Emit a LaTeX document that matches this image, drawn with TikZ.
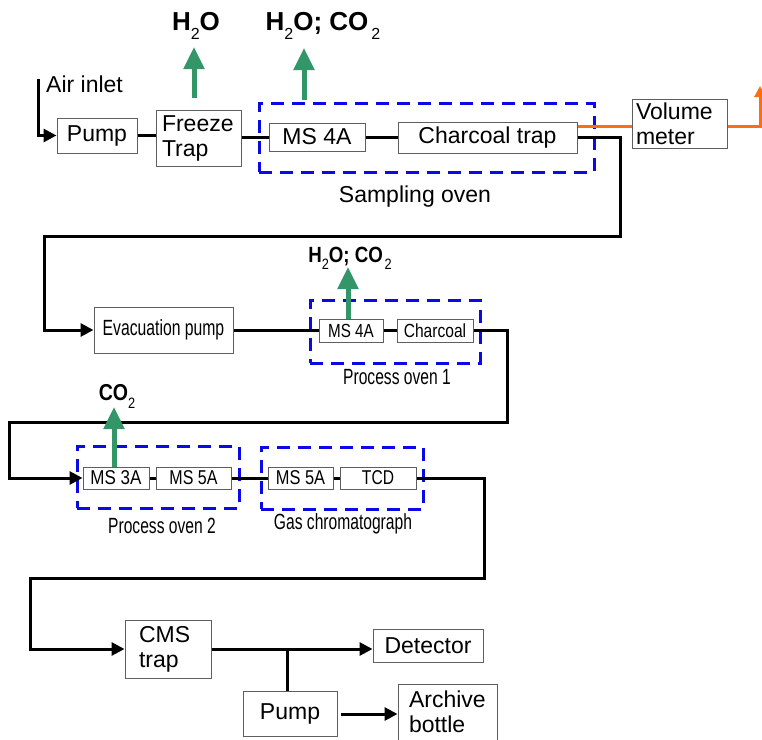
\documentclass[tikz,border=0pt]{standalone}
\usepackage{fontspec}
\usepackage{graphicx}
\setmainfont{Liberation Sans}
\usetikzlibrary{arrows.meta}

\definecolor{ovenblue}{RGB}{10,10,230}
\definecolor{ventgreen}{RGB}{50,150,105}
\definecolor{lineorange}{RGB}{250,110,20}
\definecolor{boxgrey}{RGB}{95,95,95}

% narrow (horizontally compressed) text
\newcommand\narrow[2]{\scalebox{#1}[1]{#2}}
% lowered subscript two
\newcommand\lowtwo[2]{\raisebox{-#1}{\fontsize{#2}{#2}\selectfont\mdseries 2}}

\tikzset{
  unit/.style={draw=boxgrey, line width=1pt, fill=white, inner sep=0pt,
    font=\fontsize{23}{25}\selectfont},
  unitl/.style={unit, align=left},
  oven/.style={draw=ovenblue, line width=3pt, dash pattern=on 13pt off 8pt,
    inner sep=0pt},
  pipe/.style={line width=3pt},
  flow/.style={pipe, -{Triangle[length=13pt,width=13pt]}},
  vent/.style={draw=ventgreen, line width=5pt,
    -{Triangle[length=22pt,width=20pt]}},
  exhaust/.style={draw=lineorange, line width=3pt,
    -{Triangle[length=11pt,width=11pt]}},
  gas/.style={font=\fontsize{26}{26}\selectfont\bfseries, inner sep=0pt},
  caption/.style={font=\fontsize{23}{25}\selectfont, inner sep=0pt},
  ncaption/.style={font=\fontsize{22}{25}\selectfont, inner sep=0pt},
}

\begin{document}
\begin{tikzpicture}[x=1pt,y=-1pt]
\useasboundingbox (0,0) rectangle (762,739);

% ---- sampling line ----
\node[oven, minimum width=335pt, minimum height=69pt] (soven) at (426.5,137.5) {};
\node[caption] (soventxt) at (415,197) {Sampling oven};

\node[unit, minimum width=80pt, minimum height=35pt] (pumpa) at (97,135.5) {Pump};
\node[unitl, text width=73pt, inner xsep=6pt, minimum height=56pt] (freeze) at (198.5,138) {Freeze\\Trap};
\node[unit, minimum width=96pt, minimum height=28pt] (msa) at (317,137) {MS 4A};
\node[unit, minimum width=179pt, minimum height=31pt] (ctrap) at (487.5,137.5) {Charcoal trap};
\node[unitl, text width=87pt, inner xsep=4pt, minimum height=49pt] (vmeter) at (679.5,123.5) {Volume\\meter};

\node[caption, anchor=west] (airtxt) at (46,84) {Air inlet};
\coordinate (airin) at (38,79);
\draw[flow] (airin) |- (pumpa.west);

\draw[pipe] (pumpa.east) -- (pumpa.east -| freeze.west);
\draw[pipe] (freeze.east |- msa.west) -- (msa.west);
\draw[pipe] (msa.east) -- (msa.east -| ctrap.west);

% vented water and carbon dioxide
\node[gas] (wa) at (196,26) {H\lowtwo{9pt}{16}O};
\node[gas] (wb) at (323,26) {H\lowtwo{9pt}{16}O; CO\hspace{3pt}\lowtwo{9pt}{16}};
\coordinate (ga0) at (194,98);  \coordinate (ga1) at (194,47);
\coordinate (gb0) at (304,100); \coordinate (gb1) at (304,48);
\draw[vent] (ga0) -- (ga1);
\draw[vent] (gb0) -- (gb1);

% volume measurement branch
\coordinate (vout) at (760,86);
\draw[exhaust, -] ([yshift=-2.5pt]vmeter.west -| ctrap.east) -- ([yshift=-2.5pt]vmeter.west);
\draw[exhaust] ([yshift=-2.5pt]vmeter.east) -| (vout);

% ---- transfer to process oven 1 ----
\coordinate (ta) at (620,236);
\coordinate (tb) at (44,236);
\node[unit, minimum width=139pt, minimum height=46pt, font=\fontsize{22}{25}\selectfont] (evac) at (163.5,330)
  {\narrow{0.715}{Evacuation pump}};
\draw[flow] (ctrap.east) -| (ta) -- (tb) |- (evac.west);

\node[oven, minimum width=170pt, minimum height=63pt] (poa) at (395,331.5) {};
\node[ncaption] (poatxt) at (397,377) {\narrow{0.71}{Process oven 1}};
\node[unit, minimum width=64pt, minimum height=23pt, font=\fontsize{19}{22}\selectfont] (msb) at (351,330.5) {\narrow{0.8}{MS 4A}};
\node[unit, minimum width=76pt, minimum height=23pt, font=\fontsize{19}{22}\selectfont] (char) at (435,330.5) {\narrow{0.82}{Charcoal}};
\draw[pipe] (evac.east) -- (evac.east -| msb.west);
\draw[pipe] (msb.east) -- (char.west);

\node[gas, font=\fontsize{22}{22}\selectfont\bfseries] (wc) at (350,258)
  {\narrow{0.85}{H\lowtwo{7pt}{15}O; CO\hspace{2pt}\lowtwo{7pt}{15}}};
\coordinate (gc0) at (348,319); \coordinate (gc1) at (348,267);
\draw[vent] (gc0) -- (gc1);

% ---- process oven 2 and gas chromatograph ----
\coordinate (tc) at (507,422);
\coordinate (td) at (9,422);
\node[oven, minimum width=162pt, minimum height=62pt] (pob) at (158,477) {};
\node[ncaption] (pobtxt) at (162,526) {\narrow{0.71}{Process oven 2}};
\node[oven, minimum width=162pt, minimum height=62pt] (gc) at (342,478) {};
\node[ncaption] (gctxt) at (343,524) {\narrow{0.71}{Gas chromatograph}};

\tikzset{inner/.style={unit, minimum height=22pt, font=\fontsize{20}{22}\selectfont}}
\node[inner, minimum width=66pt] (msc) at (116,478) {\narrow{0.85}{MS 3A}};
\node[inner, minimum width=75pt] (msd) at (193.5,478) {\narrow{0.8}{MS 5A}};
\node[inner, minimum width=65pt] (mse) at (300.5,478) {\narrow{0.82}{MS 5A}};
\node[inner, minimum width=76pt] (tcd) at (378,478) {\narrow{0.78}{TCD}};

\draw[flow] (char.east) -| (tc) -- (td) |- (msc.west);
\draw[pipe] (msc.east) -- (msd.west);
\draw[pipe] (msd.east) -- (mse.west);
\draw[pipe] (mse.east) -- (tcd.west);

\node[gas, font=\fontsize{23}{23}\selectfont\bfseries] (wd) at (117,396)
  {\narrow{0.85}{CO\lowtwo{8pt}{15}}};
\coordinate (gd0) at (114,467); \coordinate (gd1) at (114,407);
\draw[vent] (gd0) -- (gd1);

% ---- trapping and archiving ----
\coordinate (te) at (484,578);
\coordinate (tf) at (30,578);
\node[unitl, text width=58pt, inner xsep=14pt, minimum height=58pt] (cms) at (168,649) {CMS\\trap};
\node[unit, minimum width=110pt, minimum height=33pt] (det) at (428,645.5) {Detector};
\node[unit, minimum width=94pt, minimum height=45pt] (pumpb) at (290,713.5) {Pump};
\node[unitl, text width=77pt, inner xsep=11pt, minimum height=56pt] (arch) at (447.5,712) {Archive\\bottle};

\draw[flow] (tcd.east) -| (te) -- (tf) |- (cms.west);
\draw[flow] (cms.east) -- (cms.east -| det.west);
\coordinate (jn) at (287,649);
\draw[pipe] (jn) -- (jn |- pumpb.north);
\draw[flow, shorten <=3pt] (pumpb.east |- 0,714) -- (arch.west |- 0,714);
\end{tikzpicture}
\end{document}
